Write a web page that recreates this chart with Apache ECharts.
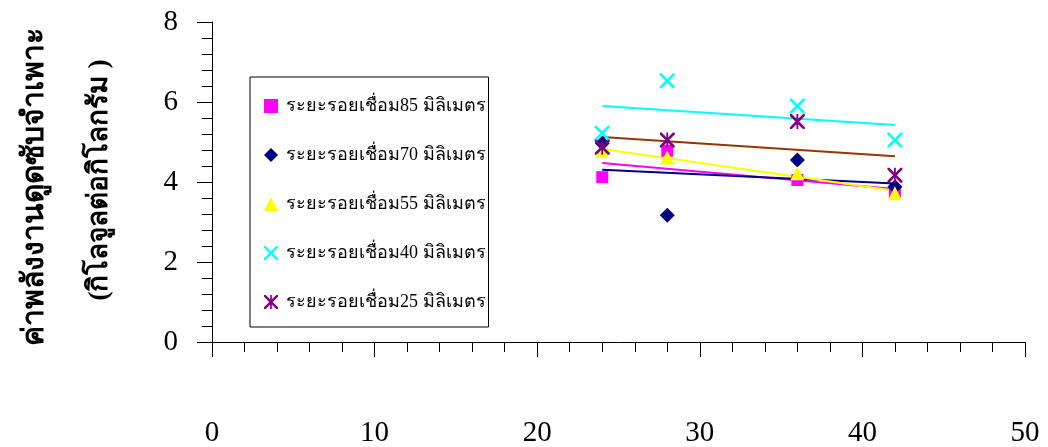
<!DOCTYPE html>
<html>
<head>
<meta charset="utf-8">
<script src="https://cdn.jsdelivr.net/npm/echarts@6/dist/echarts.min.js"></script>
<style>html,body{margin:0;padding:0;background:#fff}#c{width:1048px;height:447px}</style>
</head>
<body>
<div id="c"></div>
<script>
// x = weld spacing positions
const xValues = [24, 28, 36, 42];
const seriesNames = [
  'ระยะรอยเชื่อม85 มิลิเมตร',
  'ระยะรอยเชื่อม70 มิลิเมตร',
  'ระยะรอยเชื่อม55 มิลิเมตร',
  'ระยะรอยเชื่อม40 มิลิเมตร',
  'ระยะรอยเชื่อม25 มิลิเมตร'
];
const s85 = [4.12, 4.78, 4.05, 3.72];
const s70 = [4.97, 3.17, 4.55, 3.88];
const s55 = [4.78, 4.61, 4.22, 3.72];
const s40 = [5.22, 6.53, 5.90, 5.05];
const s25 = [4.87, 5.05, 5.51, 4.17];
const yTitle1 = 'ค่าพลังงานดูดซับจำเพาะ';
const yTitle2 = '(กิโลจูลต่อกิโลกรัม )';

const allData = [s85, s70, s55, s40, s25];
const markerColors = ['#FF00FF', '#000080', '#FFFF00', '#00FFFF', '#800080'];
const trendColors = ['#FF00FF', '#000080', '#FFFF00', '#00FFFF', '#993300'];
const X_PATH = 'path://M0,0 L2.5,0 L10,7.5 L17.5,0 L20,0 L20,2.5 L12.5,10 L20,17.5 L20,20 L17.5,20 L10,12.5 L2.5,20 L0,20 L0,17.5 L7.5,10 L0,2.5 Z';
const STAR_PATH = 'path://M0,0 L2.5,0 L10,7.5 L17.5,0 L20,0 L20,2.5 L12.5,10 L20,17.5 L20,20 L17.5,20 L10,12.5 L2.5,20 L0,20 L0,17.5 L7.5,10 L0,2.5 Z M8.8,0 L11.2,0 L11.2,20 L8.8,20 Z';
const symbols = ['rect', 'diamond', 'triangle', X_PATH, STAR_PATH];
const sizes = [12, 15, 14, 15, 15];

function trend(ys) {
  const n = xValues.length;
  const mx = xValues.reduce((a, b) => a + b, 0) / n;
  const my = ys.reduce((a, b) => a + b, 0) / n;
  let sxy = 0, sxx = 0;
  for (let i = 0; i < n; i++) { sxy += (xValues[i] - mx) * (ys[i] - my); sxx += (xValues[i] - mx) ** 2; }
  const b = sxy / sxx, a = my - b * mx;
  const x0 = xValues[0], x1 = xValues[n - 1];
  return [[x0, a + b * x0], [x1, a + b * x1]];
}

const series = [];
allData.forEach((ys, i) => {
  series.push({
    name: 'trend' + i, type: 'line', data: trend(ys), showSymbol: false, silent: true,
    lineStyle: { color: trendColors[i], width: 2 }, z: 2
  });
});
allData.forEach((ys, i) => {
  series.push({
    name: seriesNames[i], type: 'scatter', symbol: symbols[i], symbolSize: sizes[i],
    data: xValues.map((x, j) => [x, ys[j]]),
    itemStyle: { color: markerColors[i], opacity: 1 }, z: 3
  });
});

const chart = echarts.init(document.getElementById('c'), null, { renderer: 'canvas' });
const serif = 'Liberation Serif, Times New Roman, serif';
chart.setOption({
  animation: false,
  grid: { left: 212, right: 23, top: 22, bottom: 105, outerBoundsMode: 'none', containLabel: false },
  xAxis: {
    type: 'value', min: 0, max: 50, interval: 10,
    axisLine: { show: true, lineStyle: { color: '#000', width: 1 } },
    axisTick: { show: true, length: 15, lineStyle: { color: '#000' } },
    minorTick: { show: true, splitNumber: 5, length: 10, lineStyle: { color: '#000' } },
    splitLine: { show: false },
    axisLabel: { color: '#000', fontFamily: serif, fontSize: 29, margin: 77 }
  },
  yAxis: {
    type: 'value', min: 0, max: 8, interval: 2,
    axisLine: { show: true, lineStyle: { color: '#000', width: 1 } },
    axisTick: { show: true, length: 15, lineStyle: { color: '#000' } },
    minorTick: { show: true, splitNumber: 5, length: 10, lineStyle: { color: '#000' } },
    splitLine: { show: false },
    axisLabel: { color: '#000', fontFamily: serif, fontSize: 29, margin: 34 }
  },
  legend: {
    data: seriesNames, orient: 'vertical', left: 250, top: 77,
    borderColor: '#000', borderWidth: 1, padding: [20, 3, 16, 14],
    itemWidth: 14, itemHeight: 14, itemGap: 31,
    textStyle: { color: '#000', fontFamily: serif, fontSize: 18, padding: [0, 0, 0, 3] }
  },
  graphic: [
    { type: 'text', x: 35, y: 187, rotation: Math.PI / 2,
      style: { text: yTitle1, fontSize: 30, fontWeight: 'bold', fontFamily: serif, fill: '#000', align: 'center', verticalAlign: 'middle' } },
    { type: 'text', x: 100, y: 180, rotation: Math.PI / 2,
      style: { text: yTitle2, fontSize: 28, fontWeight: 'bold', fontFamily: serif, fill: '#000', align: 'center', verticalAlign: 'middle' } }
  ],
  series: series
});
</script>
</body>
</html>
